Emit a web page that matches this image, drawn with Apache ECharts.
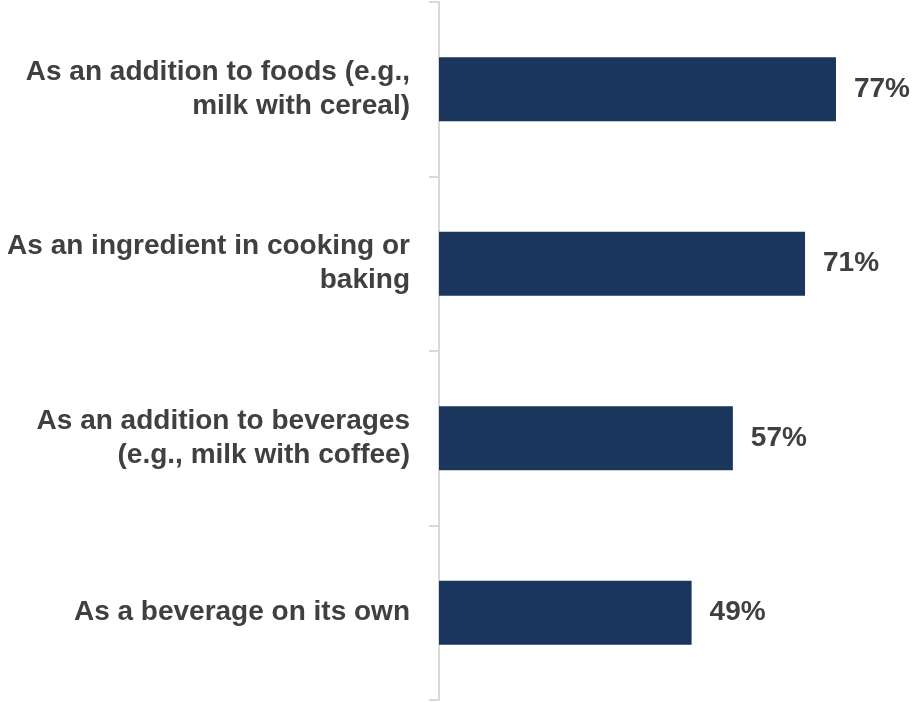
<!DOCTYPE html>
<html>
<head>
<meta charset="utf-8">
<style>
  html, body { margin: 0; padding: 0; background: #ffffff; }
  #chart { width: 918px; height: 702px; }
</style>
<script src="https://cdn.jsdelivr.net/npm/echarts@6/dist/echarts.min.js"></script>
</head>
<body>
<div id="chart"></div>
<script>
// Ways milk is used, share of respondents (%)
const categories = [
  'As an addition to foods (e.g.,\nmilk with cereal)',
  'As an ingredient in cooking or\nbaking',
  'As an addition to beverages\n(e.g., milk with coffee)',
  'As a beverage on its own'
];
const shares = [77, 71, 57, 49];

const textFont = 'Liberation Sans, Arial, sans-serif';
const chart = echarts.init(document.getElementById('chart'));

chart.setOption({
  animation: false,
  grid: { left: 439, right: 15, top: 2, bottom: 2, containLabel: false },
  xAxis: {
    type: 'value',
    min: 0,
    max: 90,
    show: false
  },
  yAxis: {
    type: 'category',
    inverse: true,
    data: categories,
    axisLine: { show: true, lineStyle: { color: '#d9d9d9', width: 2 } },
    axisTick: { show: true, length: 10, lineStyle: { color: '#d9d9d9', width: 2 } },
    axisLabel: {
      margin: 29,
      color: '#404040',
      fontFamily: textFont,
      fontWeight: 'bold',
      fontSize: 28,
      lineHeight: 34,
      align: 'right'
    }
  },
  series: [{
    type: 'bar',
    data: shares,
    barWidth: 64,
    itemStyle: { color: '#1b365d' },
    label: {
      show: true,
      position: 'right',
      distance: 18,
      formatter: '{c}%',
      color: '#404040',
      fontFamily: textFont,
      fontWeight: 'bold',
      fontSize: 28
    }
  }]
});
</script>
</body>
</html>
